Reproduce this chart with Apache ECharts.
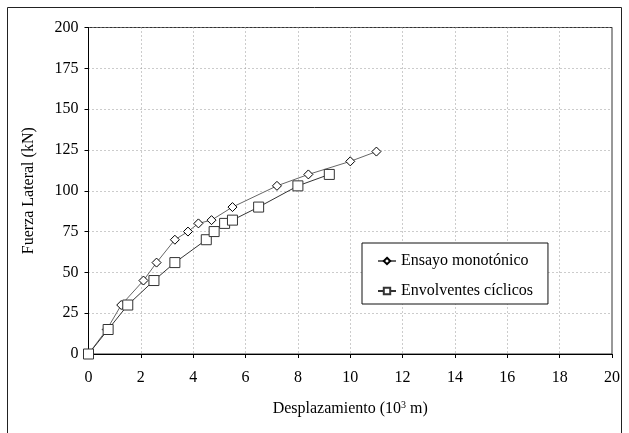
<!DOCTYPE html>
<html>
<head>
<meta charset="utf-8">
<script src="https://cdn.jsdelivr.net/npm/echarts@6/dist/echarts.min.js"></script>
<style>
html,body{margin:0;padding:0;background:#fff;}
#chart{width:629px;height:433px;}
</style>
</head>
<body>
<div id="chart"></div>
<script>
// Data
const monoX = [0, 0.7, 1.25, 2.1, 2.6, 3.3, 3.8, 4.2, 4.7, 5.5, 7.2, 8.4, 10.0, 11.0];
const monoY = [0, 15, 30, 45, 56, 70, 75, 80, 82, 90, 103, 110, 118, 124];
const cycX = [0, 0.75, 1.5, 2.5, 3.3, 4.5, 4.8, 5.2, 5.5, 6.5, 8.0, 9.2];
const cycY = [0, 15, 30, 45, 56, 70, 75, 80, 82, 90, 103, 110];
const seriesNames = ['Ensayo monotónico', 'Envolventes cíclicos'];
const xTitle = 'Desplazamiento (10{sup|3} m)';
const yTitle = 'Fuerza Lateral (kN)';

const pairs = (xs, ys) => xs.map((x, i) => [x, ys[i]]);
const font = 'Liberation Serif';
const fs = 16;

const chart = echarts.init(document.getElementById('chart'));
chart.setOption({
  animation: false,
  backgroundColor: '#fff',
  textStyle: { fontFamily: font },
  graphic: [{
    type: 'rect', shape: { x: 7.5, y: 7.5, width: 614, height: 440 },
    style: { fill: 'none', stroke: '#222', lineWidth: 1 }, silent: true, z: -1
  }],
  grid: {
    left: 88.5, right: 17, top: 27.5, bottom: 79,
    show: true, borderColor: '#333', borderWidth: 1, backgroundColor: 'transparent'
  },
  legend: {
    orient: 'vertical', left: 362, top: 243,
    padding: [10, 15, 5, 15], itemGap: 14, itemWidth: 18, itemHeight: 8,
    borderColor: '#111', borderWidth: 1, backgroundColor: '#fff',
    textStyle: { fontFamily: font, fontSize: fs, color: '#000' },
    data: seriesNames
  },
  xAxis: {
    type: 'value', min: 0, max: 20, interval: 2,
    name: xTitle, nameLocation: 'middle', nameGap: 46,
    nameTextStyle: {
      fontFamily: font, fontSize: fs, color: '#000',
      rich: { sup: { fontSize: 10, verticalAlign: 'top', fontFamily: font, color: '#000', padding: [0, 0, 7, 0] } }
    },
    axisLine: { lineStyle: { color: '#000', width: 1 } },
    axisTick: { show: true, inside: false, length: 4, lineStyle: { color: '#000' } },
    axisLabel: { fontFamily: font, fontSize: fs, color: '#000', margin: 16 },
    splitLine: { show: true, lineStyle: { color: '#999', type: [1, 3], width: 1 } }
  },
  yAxis: {
    type: 'value', min: 0, max: 200, interval: 25,
    name: yTitle, nameLocation: 'middle', nameGap: 52, nameRotate: 90,
    nameTextStyle: { fontFamily: font, fontSize: fs, color: '#000' },
    axisLine: { show: true, lineStyle: { color: '#000', width: 1 } },
    axisTick: { show: true, inside: false, length: 4, lineStyle: { color: '#000' } },
    axisLabel: { fontFamily: font, fontSize: fs, color: '#000', margin: 10 },
    splitLine: { show: true, lineStyle: { color: '#999', type: [1, 3], width: 1 } }
  },
  series: [
    {
      name: seriesNames[0], type: 'line', data: pairs(monoX, monoY),
      symbol: 'diamond', symbolSize: 9, showAllSymbol: true,
      lineStyle: { color: '#666', width: 1 },
      itemStyle: { color: '#fff', borderColor: '#000', borderWidth: 1 }
    },
    {
      name: seriesNames[1], type: 'line', data: pairs(cycX, cycY),
      symbol: 'rect', symbolSize: 10, showAllSymbol: true,
      lineStyle: { color: '#333', width: 1 },
      itemStyle: { color: '#fff', borderColor: '#333', borderWidth: 1 }
    }
  ]
});
</script>
</body>
</html>
